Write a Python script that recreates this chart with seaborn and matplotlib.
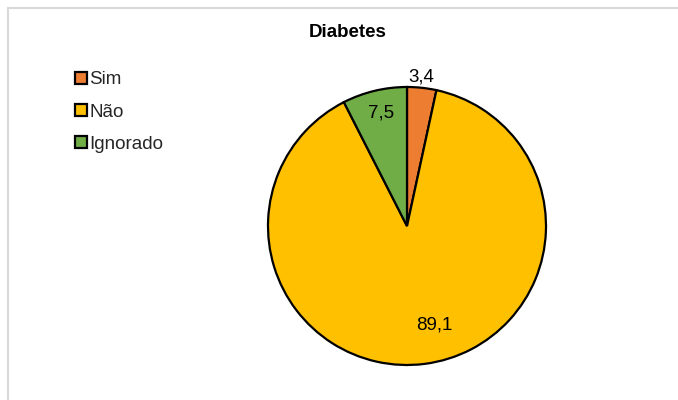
import numpy as np
import matplotlib
matplotlib.use("Agg")
import matplotlib.pyplot as plt
from matplotlib.patches import Rectangle
import seaborn as sns

categories = ["Sim", "Não", "Ignorado"]
values = [3.4, 89.1, 7.5]
value_labels = ["3,4", "89,1", "7,5"]
colors = ["#ED7D31", "#FFC000", "#70AD47"]

sns.set_theme(style="white")
plt.rcParams["font.family"] = ["Liberation Sans", "DejaVu Sans"]

W, H = 678, 400
fig = plt.figure(figsize=(W / 100, H / 100), dpi=100)

# chart frame (light gray border)
fig.patches.append(Rectangle((7.5 / W, -0.05), 1.2, (400 - 7.5) / H + 0.05,
                             transform=fig.transFigure, fill=False,
                             edgecolor="#d9d9d9", linewidth=1.5))

cx, cy, r = 407, 226, 139
ax = fig.add_axes([(cx - r) / W, (H - cy - r) / H, 2 * r / W, 2 * r / H])
wedges, _ = ax.pie(values, colors=colors, startangle=90, counterclock=False,
                   wedgeprops=dict(edgecolor="black", linewidth=1.6),
                   radius=1)
ax.set_xlim(-1, 1)
ax.set_ylim(-1, 1)
ax.set_aspect("equal")
ax.axis("off")

# value label placement (in pie radius units)
label_pos = [(0.104, 1.075), (0.198, -0.712), (-0.187, 0.813)]
for txt, (lx, ly) in zip(value_labels, label_pos):
    ax.text(lx, ly, txt, ha="center", va="center",
            fontsize=13.5, color="black", clip_on=False)

fig.text(347.5 / W, 1 - 32.5 / H, "Diabetes", ha="center", va="center",
         fontsize=13.5, fontweight="bold", color="black")

leg = fig.legend(wedges, categories, loc="upper left",
                 bbox_to_anchor=(66 / W, 1 - 62 / H), frameon=False,
                 fontsize=13.5, handlelength=0.6, handleheight=0.6,
                 handletextpad=0.15, labelspacing=0.81, borderpad=0)

fig.savefig("out.png", dpi=100)
